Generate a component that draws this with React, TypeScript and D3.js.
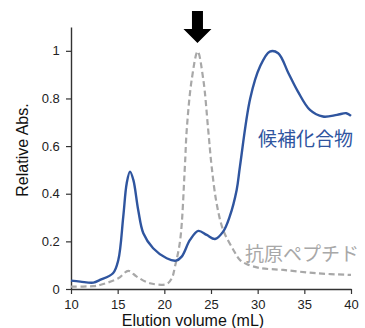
import React, { useEffect, useRef } from 'react';
import * as d3 from 'd3';

// Elution volume (mL) vs relative absorbance
const candidateX = [10, 11, 12.4, 13.1, 14.5, 15.07, 15.6, 15.97, 16.32, 16.68, 17.2, 17.75, 18.8, 20.25, 21.25, 21.86, 22.75, 23.64, 24.54, 25.43, 26.3, 27.0, 27.75, 28.1, 29.2, 30.25, 31.3, 32.2, 33.3, 34.3, 35.6, 37.0, 38.5, 39.5, 40];
const candidateY = [0.035, 0.031, 0.027, 0.038, 0.066, 0.122, 0.304, 0.444, 0.493, 0.458, 0.332, 0.234, 0.171, 0.129, 0.119, 0.136, 0.206, 0.244, 0.227, 0.21, 0.241, 0.304, 0.416, 0.514, 0.8, 0.934, 0.997, 0.99, 0.906, 0.83, 0.752, 0.724, 0.731, 0.738, 0.727];

const antigenX = [10, 12.4, 13.1, 15.07, 16.14, 17.04, 18.46, 20.25, 20.8, 21.14, 21.7, 22.2, 22.4, 22.93, 23.57, 24.18, 24.7, 25.07, 25.6, 26.3, 27.4, 28.1, 28.8, 30.25, 32.75, 36.3, 40];
const antigenY = [0.01, 0.012, 0.017, 0.045, 0.076, 0.052, 0.024, 0.021, 0.045, 0.094, 0.206, 0.514, 0.668, 0.878, 0.997, 0.878, 0.668, 0.514, 0.36, 0.248, 0.164, 0.122, 0.105, 0.088, 0.08, 0.066, 0.059];

const xTicks = [10, 15, 20, 25, 30, 35, 40];
const yTicks = [0, 0.2, 0.4, 0.6, 0.8, 1];
const arrowAt = 23.55;

const W = 365;
const H = 328;
const BLUE = '#2f559f';
const GRAY = '#a8a8a8';

export default function App() {
  const ref = useRef<SVGSVGElement>(null);

  useEffect(() => {
    if (!ref.current) return;
    const svg = d3.select(ref.current);
    svg.selectAll('*').remove();

    const x = d3.scaleLinear().domain([10, 40]).range([71, 351]);
    const y = d3.scaleLinear().domain([0, 1.1]).range([289, 27]);
    const font = 'Liberation Sans, Arial, sans-serif';

    // axes
    const gx = svg.append('g').attr('transform', `translate(0,${y(0)})`)
      .call(d3.axisBottom(x).tickValues(xTicks).tickSize(5).tickSizeOuter(0).tickFormat(d3.format('d')));
    const gy = svg.append('g').attr('transform', `translate(${x(10)},0)`)
      .call(d3.axisLeft(y).tickValues(yTicks).tickSize(5).tickSizeOuter(0).tickFormat(d => String(d)));
    [gx, gy].forEach(g => {
      g.select('.domain').attr('stroke', '#333').attr('stroke-width', 1.4);
      g.selectAll('.tick line').attr('stroke', '#333').attr('stroke-width', 1.2);
      g.selectAll('.tick text').attr('fill', '#222').attr('font-size', 13).attr('font-family', font);
    });
    gx.selectAll('.tick text').attr('dy', '0.95em');
    gy.selectAll('.tick text').attr('dx', '-0.25em');

    const line = d3.line<[number, number]>()
      .x(d => x(d[0]))
      .y(d => y(d[1]))
      .curve(d3.curveCatmullRom.alpha(0.5));

    svg.append('path')
      .datum(antigenX.map((v, i) => [v, antigenY[i]] as [number, number]))
      .attr('fill', 'none')
      .attr('stroke', GRAY)
      .attr('stroke-width', 2.2)
      .attr('stroke-dasharray', '6,3.5')
      .attr('d', line);

    svg.append('path')
      .datum(candidateX.map((v, i) => [v, candidateY[i]] as [number, number]))
      .attr('fill', 'none')
      .attr('stroke', BLUE)
      .attr('stroke-width', 2.4)
      .attr('d', line);

    // arrow marking the antigen peak
    const ax = x(arrowAt);
    svg.append('path')
      .attr('d', `M${ax - 5.5},11 H${ax + 5.5} V29 H${ax + 14} L${ax},43 L${ax - 14},29 H${ax - 5.5} Z`)
      .attr('fill', '#000');

    svg.append('text')
      .attr('x', 258).attr('y', 146)
      .attr('fill', BLUE).attr('font-size', 19)
      .attr('font-family', 'Noto Sans CJK JP, sans-serif')
      .text('候補化合物');

    svg.append('text')
      .attr('x', 245).attr('y', 261)
      .attr('fill', GRAY).attr('font-size', 19)
      .attr('font-family', 'Noto Sans CJK JP, sans-serif')
      .text('抗原ペプチド');

    svg.append('text')
      .attr('x', 193).attr('y', 326)
      .attr('text-anchor', 'middle')
      .attr('fill', '#111').attr('font-size', 16)
      .attr('font-family', font)
      .text('Elution volume (mL)');

    svg.append('text')
      .attr('transform', `translate(28,150) rotate(-90)`)
      .attr('text-anchor', 'middle')
      .attr('fill', '#111').attr('font-size', 16)
      .attr('font-family', font)
      .text('Relative Abs.');
  }, []);

  return (
    <div style={{ position: 'fixed', left: 0, top: 0, background: '#fff' }}>
      <svg ref={ref} width={W} height={H} style={{ display: 'block' }} />
    </div>
  );
}
